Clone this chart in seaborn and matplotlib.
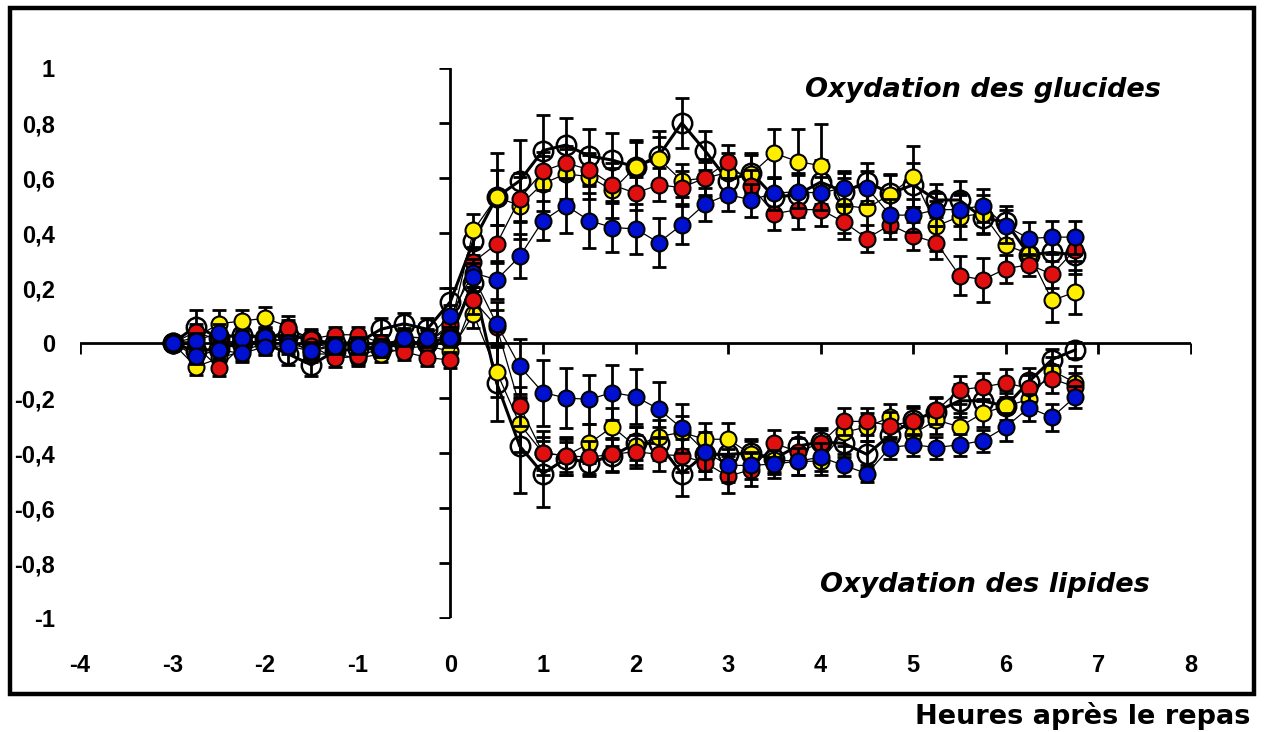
import numpy as np
import pandas as pd
import matplotlib
matplotlib.use("Agg")
import matplotlib.pyplot as plt
import seaborn as sns
from matplotlib.patches import Rectangle

# hours after the meal
hours = [-3, -2.75, -2.5, -2.25, -2, -1.75, -1.5, -1.25, -1, -0.75, -0.5, -0.25, 0,
         0.25, 0.5, 0.75, 1, 1.25, 1.5, 1.75, 2, 2.25, 2.5, 2.75, 3, 3.25, 3.5, 3.75,
         4, 4.25, 4.5, 4.75, 5, 5.25, 5.5, 5.75, 6, 6.25, 6.5, 6.75]

# glucide oxidation (positive half)
black_gluc = [0, 0.06, 0.02, 0.03, 0.02, 0.03, 0.01, 0.0, 0.0, 0.05, 0.07, 0.05, 0.15,
              0.37, 0.53, 0.59, 0.70, 0.72, 0.68, 0.665, 0.64, 0.68, 0.80, 0.70, 0.59, 0.62,
              0.53, 0.54, 0.585, 0.55, 0.585, 0.545, 0.575, 0.52, 0.52, 0.455, 0.44, 0.32, 0.33, 0.32]
black_gluc_err = [0, 0.06, 0.04, 0.04, 0.04, 0.04, 0.04, 0.03, 0.03, 0.04, 0.04, 0.04, 0.05,
                  0.05, 0.16, 0.15, 0.13, 0.10, 0.10, 0.10, 0.10, 0.09, 0.09, 0.07, 0.07, 0.07,
                  0.07, 0.08, 0.08, 0.07, 0.07, 0.07, 0.08, 0.06, 0.07, 0.06, 0.06, 0.05, 0.06, 0.07]
yellow_gluc = [0, 0.02, 0.07, 0.08, 0.09, 0.06, 0.0, -0.02, -0.01, 0.0, 0.01, 0.0, 0.06,
               0.41, 0.53, 0.50, 0.58, 0.615, 0.605, 0.555, 0.64, 0.67, 0.59, 0.60, 0.62, 0.615,
               0.69, 0.66, 0.645, 0.50, 0.49, 0.54, 0.605, 0.425, 0.46, 0.47, 0.355, 0.325, 0.155, 0.185]
yellow_gluc_err = [0, 0.04, 0.05, 0.04, 0.04, 0.04, 0.03, 0.03, 0.03, 0.03, 0.03, 0.03, 0.04,
                   0.06, 0.10, 0.12, 0.10, 0.09, 0.08, 0.10, 0.09, 0.08, 0.06, 0.07, 0.07, 0.07,
                   0.09, 0.12, 0.15, 0.10, 0.09, 0.07, 0.11, 0.09, 0.08, 0.07, 0.08, 0.06, 0.08, 0.08]
red_gluc = [0, 0.04, 0.01, 0.0, 0.01, 0.053, 0.015, 0.03, 0.03, 0.0, 0.0, 0.0, 0.07,
            0.295, 0.36, 0.525, 0.625, 0.655, 0.63, 0.575, 0.545, 0.575, 0.565, 0.60, 0.66, 0.57,
            0.47, 0.485, 0.485, 0.44, 0.38, 0.43, 0.39, 0.365, 0.245, 0.23, 0.27, 0.285, 0.25, 0.34]
red_gluc_err = [0, 0.03, 0.03, 0.03, 0.03, 0.03, 0.03, 0.03, 0.03, 0.03, 0.03, 0.03, 0.03,
                0.05, 0.07, 0.08, 0.07, 0.06, 0.06, 0.06, 0.06, 0.06, 0.06, 0.06, 0.06, 0.06,
                0.06, 0.07, 0.06, 0.06, 0.05, 0.05, 0.05, 0.06, 0.07, 0.08, 0.05, 0.04, 0.05, 0.04]
blue_gluc = [0, 0.007, 0.038, 0.017, 0.023, 0.0, -0.025, -0.007, -0.007, -0.016, 0.023, 0.017, 0.10,
             0.255, 0.23, 0.315, 0.445, 0.50, 0.445, 0.42, 0.415, 0.365, 0.43, 0.505, 0.54, 0.52,
             0.545, 0.55, 0.545, 0.565, 0.565, 0.465, 0.465, 0.485, 0.485, 0.50, 0.425, 0.38, 0.385, 0.385]
blue_gluc_err = [0, 0.03, 0.03, 0.03, 0.03, 0.03, 0.03, 0.03, 0.03, 0.03, 0.03, 0.03, 0.04,
                 0.05, 0.07, 0.08, 0.07, 0.10, 0.10, 0.09, 0.09, 0.09, 0.07, 0.06, 0.06, 0.06,
                 0.06, 0.06, 0.06, 0.06, 0.06, 0.06, 0.06, 0.06, 0.06, 0.06, 0.06, 0.06, 0.06, 0.06]

# lipid oxidation (negative half)
black_lip = [0, -0.03, -0.02, 0.0, 0.0, -0.04, -0.08, -0.03, -0.02, -0.02, 0.0, 0.0, 0.02,
             0.22, -0.145, -0.375, -0.475, -0.42, -0.435, -0.41, -0.365, -0.365, -0.475, -0.405, -0.405, -0.40,
             -0.42, -0.375, -0.36, -0.365, -0.405, -0.335, -0.28, -0.25, -0.21, -0.21, -0.23, -0.14, -0.06, -0.025]
black_lip_err = [0, 0.04, 0.04, 0.04, 0.04, 0.04, 0.04, 0.03, 0.03, 0.03, 0.03, 0.03, 0.04,
                 0.05, 0.14, 0.17, 0.12, 0.06, 0.05, 0.06, 0.06, 0.06, 0.08, 0.06, 0.06, 0.05,
                 0.05, 0.05, 0.05, 0.05, 0.05, 0.05, 0.05, 0.05, 0.06, 0.06, 0.06, 0.05, 0.04, 0.03]
yellow_lip = [0, -0.086, -0.056, -0.03, 0.0, 0.02, -0.04, -0.04, -0.055, -0.04, -0.02, -0.01, -0.03,
              0.105, -0.105, -0.295, -0.40, -0.41, -0.365, -0.305, -0.375, -0.34, -0.325, -0.35, -0.35, -0.405,
              -0.425, -0.43, -0.43, -0.325, -0.305, -0.27, -0.33, -0.28, -0.305, -0.255, -0.23, -0.205, -0.10, -0.145]
yellow_lip_err = [0, 0.03, 0.03, 0.03, 0.03, 0.03, 0.03, 0.03, 0.03, 0.03, 0.03, 0.03, 0.03,
                  0.05, 0.09, 0.10, 0.08, 0.07, 0.07, 0.07, 0.07, 0.06, 0.06, 0.06, 0.06, 0.05,
                  0.05, 0.05, 0.05, 0.05, 0.05, 0.05, 0.05, 0.05, 0.05, 0.05, 0.05, 0.05, 0.05, 0.06]
red_lip = [0, -0.01, -0.09, -0.01, 0.0, 0.0, -0.01, -0.056, -0.048, -0.02, -0.032, -0.053, -0.062,
           0.155, 0.06, -0.23, -0.40, -0.41, -0.415, -0.405, -0.395, -0.405, -0.41, -0.435, -0.485, -0.46,
           -0.365, -0.395, -0.365, -0.285, -0.285, -0.30, -0.285, -0.245, -0.17, -0.16, -0.145, -0.165, -0.13, -0.16]
red_lip_err = [0, 0.03, 0.03, 0.03, 0.03, 0.03, 0.03, 0.03, 0.03, 0.03, 0.03, 0.03, 0.03,
               0.05, 0.06, 0.07, 0.06, 0.06, 0.06, 0.06, 0.06, 0.06, 0.06, 0.06, 0.06, 0.06,
               0.05, 0.05, 0.05, 0.05, 0.05, 0.05, 0.05, 0.05, 0.05, 0.05, 0.05, 0.05, 0.05, 0.05]
blue_lip = [0, -0.047, -0.025, -0.038, -0.013, -0.01, -0.03, -0.01, -0.01, -0.02, 0.02, 0.02, 0.017,
            0.24, 0.07, -0.085, -0.18, -0.20, -0.205, -0.18, -0.195, -0.24, -0.31, -0.395, -0.445, -0.445,
            -0.44, -0.43, -0.415, -0.445, -0.475, -0.38, -0.37, -0.38, -0.37, -0.355, -0.305, -0.235, -0.27, -0.195]
blue_lip_err = [0, 0.03, 0.03, 0.03, 0.03, 0.03, 0.03, 0.03, 0.03, 0.03, 0.03, 0.03, 0.03,
                0.05, 0.08, 0.10, 0.12, 0.11, 0.09, 0.10, 0.10, 0.10, 0.09, 0.07, 0.06, 0.05,
                0.05, 0.05, 0.05, 0.04, 0.03, 0.04, 0.04, 0.04, 0.04, 0.04, 0.05, 0.05, 0.05, 0.04]

x_ticks = [-4, -3, -2, -1, 0, 1, 2, 3, 4, 5, 6, 7, 8]
y_ticks = [-1, -0.8, -0.6, -0.4, -0.2, 0, 0.2, 0.4, 0.6, 0.8, 1]
y_tick_labels = ["-1", "-0,8", "-0,6", "-0,4", "-0,2", "0", "0,2", "0,4", "0,6", "0,8", "1"]

sns.set_style("white")
plt.rcParams["font.family"] = ["Liberation Sans", "DejaVu Sans"]
plt.rcParams["text.color"] = "black"
plt.rcParams["xtick.color"] = "black"
plt.rcParams["ytick.color"] = "black"

fig = plt.figure(figsize=(12.64, 7.32), dpi=100)
ax = fig.add_axes([80 / 1264, 1 - 618 / 732, (1191 - 80) / 1264, (618 - 68) / 732])

# axes through the origin
ax.axhline(0, color="black", lw=2, zorder=1)
ax.plot([0, 0], [-1, 1], color="black", lw=2, zorder=1)
ax.plot(x_ticks, [0] * len(x_ticks), ls="none", marker=3, ms=8, mew=2, color="black", zorder=1)
ax.plot([0] * len(y_ticks), y_ticks, ls="none", marker=0, ms=8, mew=2, color="black", zorder=1)

series = [
    ("black", "none", 14, 2.2, black_gluc, black_gluc_err, black_lip, black_lip_err),
    ("yellow", "#ffee00", 11.5, 0.9, yellow_gluc, yellow_gluc_err, yellow_lip, yellow_lip_err),
    ("red", "#e01010", 11.5, 0.9, red_gluc, red_gluc_err, red_lip, red_lip_err),
    ("blue", "#0010d0", 11.5, 0.9, blue_gluc, blue_gluc_err, blue_lip, blue_lip_err),
]

z = 2
for name, face, ms, lw, gl, gl_err, lp, lp_err in series:
    for vals, errs in [(gl, gl_err), (lp, lp_err)]:
        df = pd.DataFrame({"h": hours, "v": vals, "e": errs})
        ax.errorbar(df["h"], df["v"], yerr=df["e"], fmt="none", ecolor="black",
                    elinewidth=2, capsize=5, capthick=2, zorder=z)
        sns.lineplot(data=df, x="h", y="v", ax=ax, color="black", lw=lw,
                     marker="o", markersize=ms, markerfacecolor=face,
                     markeredgecolor="black", markeredgewidth=1.8 if face == "none" else 1.5,
                     errorbar=None, zorder=z + 1)
    z += 2

ax.set_xlim(-4, 8)
ax.set_ylim(-1, 1)
ax.set_xlabel("")
ax.set_ylabel("")
for s in ax.spines.values():
    s.set_visible(False)
ax.set_xticks(x_ticks)
ax.set_xticklabels([str(t) for t in x_ticks], fontsize=17, fontweight="bold")
ax.set_yticks(y_ticks)
ax.set_yticklabels(y_tick_labels, fontsize=17, fontweight="bold")
ax.tick_params(axis="x", length=0, pad=26, colors="black")
ax.tick_params(axis="y", length=0, pad=18, colors="black")
ax.set_facecolor("none")

fig.text(983 / 1264, 1 - 90 / 732, "Oxydation des glucides", ha="center", va="center",
         fontsize=19.5, fontweight="bold", style="italic", family="DejaVu Sans", color="black")
fig.text(985 / 1264, 1 - 585 / 732, "Oxydation des lipides", ha="center", va="center",
         fontsize=19.5, fontweight="bold", style="italic", family="DejaVu Sans", color="black")
fig.text(1250 / 1264, 1 - 716 / 732, "Heures après le repas", ha="right", va="center",
         fontsize=19.5, fontweight="bold", family="DejaVu Sans", color="black")

fig.patches.append(Rectangle((10 / 1264, 1 - 694 / 732), 1244 / 1264, 686 / 732,
                             transform=fig.transFigure, fill=False, lw=3.2, ec="black"))

fig.savefig("out.png", dpi=100)
